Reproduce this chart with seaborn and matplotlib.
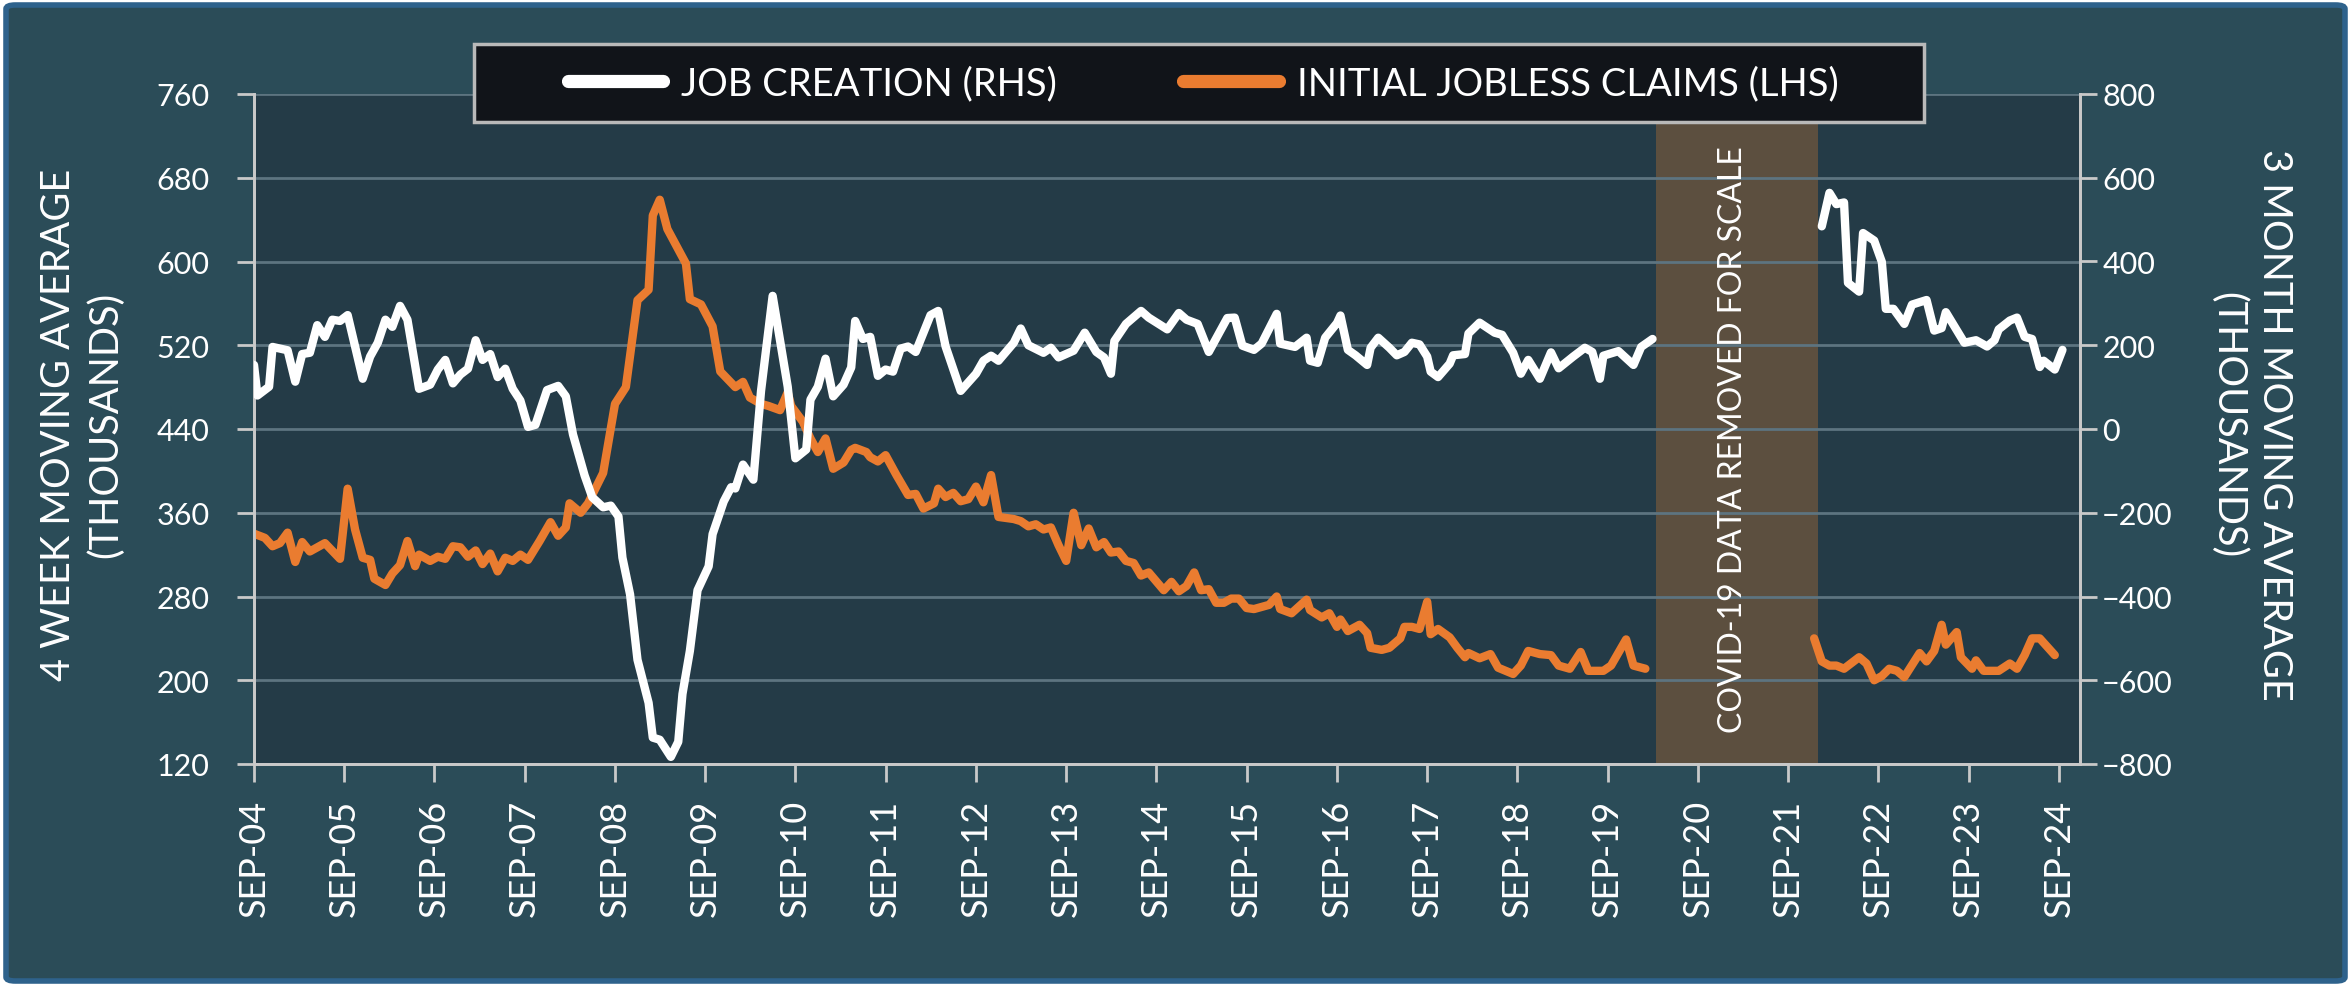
import numpy as np
import pandas as pd
import matplotlib
matplotlib.use("Agg")
import matplotlib.pyplot as plt
from matplotlib.lines import Line2D
from matplotlib.patches import Rectangle, FancyBboxPatch
import seaborn as sns

# job creation, 3 month moving average (thousands, RHS)
jobs_dates_pre = [
    "2004-09-01", "2004-09-15", "2004-11-01", "2004-11-15", "2005-01-15", "2005-02-15",
    "2005-03-15", "2005-04-15", "2005-05-15", "2005-06-15", "2005-07-15", "2005-08-15",
    "2005-09-15", "2005-11-15", "2005-12-15", "2006-01-15", "2006-02-15", "2006-03-15",
    "2006-04-15", "2006-05-15", "2006-07-01", "2006-08-15", "2006-09-15", "2006-10-15",
    "2006-11-15", "2006-12-15", "2007-01-15", "2007-02-15", "2007-03-15", "2007-04-15",
    "2007-05-15", "2007-06-15", "2007-07-15", "2007-08-15", "2007-09-15", "2007-10-15",
    "2007-12-01", "2008-01-15", "2008-02-15", "2008-03-15", "2008-05-01", "2008-06-01",
    "2008-07-15", "2008-08-15", "2008-09-15", "2008-10-01", "2008-11-01", "2008-12-01",
    "2009-01-15", "2009-02-01", "2009-03-01", "2009-04-15", "2009-05-15", "2009-06-01",
    "2009-07-01", "2009-08-01", "2009-09-15", "2009-10-01", "2009-11-15", "2009-12-15",
    "2010-01-01", "2010-02-01", "2010-03-15", "2010-04-15", "2010-06-01", "2010-08-01",
    "2010-09-01", "2010-10-15", "2010-11-01", "2010-12-01", "2011-01-01", "2011-02-01",
    "2011-03-15", "2011-04-15", "2011-05-01", "2011-06-01", "2011-07-01", "2011-08-01",
    "2011-09-01", "2011-10-01", "2011-11-01", "2011-12-01", "2012-01-01", "2012-03-01",
    "2012-04-01", "2012-05-01", "2012-07-01", "2012-09-01", "2012-10-01", "2012-11-01",
    "2012-12-01", "2013-02-01", "2013-03-01", "2013-04-01", "2013-06-01", "2013-07-01",
    "2013-08-01", "2013-09-01", "2013-10-01", "2013-11-15", "2014-01-01", "2014-02-01",
    "2014-03-01", "2014-03-15", "2014-05-01", "2014-07-01", "2014-08-01", "2014-10-15",
    "2014-12-01", "2015-01-01", "2015-02-15", "2015-04-01", "2015-06-15", "2015-07-15",
    "2015-08-15", "2015-10-01", "2015-11-01", "2016-01-01", "2016-01-15", "2016-03-15",
    "2016-05-01", "2016-05-15", "2016-06-15", "2016-07-15", "2016-09-01", "2016-09-15",
    "2016-10-15", "2016-11-15", "2017-01-01", "2017-01-15", "2017-02-15", "2017-04-01",
    "2017-05-01", "2017-06-01", "2017-07-01", "2017-08-01", "2017-09-01", "2017-09-15",
    "2017-10-15", "2017-12-01", "2017-12-15", "2018-02-01", "2018-02-15", "2018-04-01",
    "2018-06-01", "2018-07-01", "2018-08-15", "2018-09-15", "2018-10-15", "2018-12-01",
    "2019-01-15", "2019-02-15", "2019-04-15", "2019-06-01", "2019-07-01", "2019-08-01",
    "2019-08-15", "2019-10-15", "2019-12-15", "2020-01-15", "2020-03-01",
]
jobs_pre = [
    153, 80, 101, 196, 188, 113,
    179, 182, 248, 220, 261, 258,
    272, 120, 173, 206, 261, 244,
    294, 261, 96, 106, 142, 165,
    109, 130, 144, 212, 165, 179,
    124, 144, 96, 68, 5, 10,
    93, 103, 78, -13, -111, -163,
    -187, -183, -209, -307, -395, -551,
    -654, -737, -742, -783, -747, -633,
    -530, -385, -328, -251, -173, -139,
    -142, -85, -121, 91, 318, 101,
    -70, -49, 70, 101, 168, 78,
    106, 147, 258, 215, 220, 127,
    142, 137, 192, 197, 184, 272,
    282, 197, 91, 132, 163, 175,
    163, 206, 240, 200, 182, 194,
    171, 179, 187, 230, 184, 171,
    132, 210, 251, 282, 266, 238,
    277, 261, 251, 184, 265, 266,
    199, 189, 204, 275, 204, 196,
    218, 163, 158, 218, 253, 271,
    189, 176, 153, 194, 218, 194,
    176, 184, 206, 202, 173, 137,
    124, 156, 176, 179, 228, 254,
    230, 225, 182, 132, 165, 120,
    183, 145, 173, 194, 184, 120,
    175, 186, 153, 196, 215,
]
jobs_dates_post = [
    "2022-01-15", "2022-02-15", "2022-03-15", "2022-04-15", "2022-05-01", "2022-06-15",
    "2022-07-01", "2022-08-15", "2022-09-15", "2022-10-01", "2022-11-01", "2022-12-15",
    "2023-01-15", "2023-03-15", "2023-04-15", "2023-05-15", "2023-06-01", "2023-08-15",
    "2023-10-01", "2023-11-15", "2023-12-15", "2024-01-01", "2024-02-15", "2024-03-15",
    "2024-04-15", "2024-05-15", "2024-06-15", "2024-07-01", "2024-08-15", "2024-09-15",
]
jobs_post = [
    484, 564, 537, 541, 349, 328,
    468, 450, 399, 287, 287, 251,
    297, 308, 235, 241, 279, 206,
    212, 197, 212, 238, 259, 266,
    220, 215, 148, 163, 142, 189,
]

# initial jobless claims, 4 week moving average (thousands, LHS)
claims_dates_pre = [
    "2004-09-01", "2004-10-15", "2004-11-15", "2004-12-15", "2005-01-15", "2005-02-15",
    "2005-03-15", "2005-04-15", "2005-06-15", "2005-08-15", "2005-09-15", "2005-10-15",
    "2005-11-15", "2005-12-15", "2006-01-01", "2006-02-15", "2006-03-15", "2006-04-15",
    "2006-05-15", "2006-06-15", "2006-07-01", "2006-08-15", "2006-09-15", "2006-10-15",
    "2006-11-15", "2006-12-15", "2007-01-15", "2007-02-15", "2007-03-15", "2007-04-15",
    "2007-05-15", "2007-06-15", "2007-07-15", "2007-08-15", "2007-09-15", "2007-11-01",
    "2007-12-15", "2008-01-15", "2008-02-15", "2008-03-01", "2008-04-15", "2008-05-15",
    "2008-07-15", "2008-09-01", "2008-10-15", "2008-12-01", "2009-01-15", "2009-02-01",
    "2009-03-01", "2009-04-01", "2009-06-15", "2009-07-01", "2009-08-15", "2009-10-01",
    "2009-11-01", "2010-01-01", "2010-02-01", "2010-03-01", "2010-04-15", "2010-05-15",
    "2010-07-01", "2010-08-01", "2010-08-15", "2010-10-01", "2010-11-01", "2010-12-01",
    "2011-01-01", "2011-02-01", "2011-03-15", "2011-04-15", "2011-05-01", "2011-06-15",
    "2011-07-01", "2011-08-01", "2011-09-01", "2011-10-15", "2011-12-01", "2012-01-01",
    "2012-02-01", "2012-03-15", "2012-04-01", "2012-05-01", "2012-06-01", "2012-07-01",
    "2012-08-01", "2012-09-01", "2012-10-01", "2012-11-01", "2012-12-01", "2013-02-01",
    "2013-03-01", "2013-04-01", "2013-05-01", "2013-06-01", "2013-07-01", "2013-08-01",
    "2013-09-01", "2013-10-01", "2013-11-01", "2013-12-01", "2014-01-01", "2014-02-01",
    "2014-03-01", "2014-04-01", "2014-05-01", "2014-06-01", "2014-07-01", "2014-08-01",
    "2014-10-01", "2014-11-01", "2014-12-01", "2015-01-01", "2015-02-01", "2015-03-01",
    "2015-04-01", "2015-05-01", "2015-06-01", "2015-07-01", "2015-08-01", "2015-09-01",
    "2015-10-01", "2015-12-01", "2016-01-01", "2016-01-15", "2016-03-01", "2016-05-01",
    "2016-05-15", "2016-07-01", "2016-08-01", "2016-09-01", "2016-09-15", "2016-10-15",
    "2016-12-01", "2017-01-01", "2017-01-15", "2017-03-01", "2017-04-01", "2017-05-15",
    "2017-06-01", "2017-07-01", "2017-08-01", "2017-09-01", "2017-09-15", "2017-10-15",
    "2017-12-01", "2018-01-01", "2018-02-01", "2018-02-15", "2018-04-01", "2018-05-15",
    "2018-06-15", "2018-08-15", "2018-09-15", "2018-10-15", "2018-12-01", "2019-01-15",
    "2019-02-15", "2019-04-01", "2019-05-15", "2019-06-15", "2019-08-15", "2019-09-15",
    "2019-11-15", "2019-12-15", "2020-02-01",
]
claims_pre = [
    340, 336, 328, 331, 341, 313,
    332, 323, 331, 316, 383, 344,
    317, 315, 297, 291, 302, 310,
    333, 309, 320, 314, 318, 316,
    328, 327, 318, 324, 311, 321,
    304, 317, 314, 320, 315, 333,
    351, 338, 346, 369, 360, 369,
    398, 464, 480, 563, 573, 644,
    659, 631, 598, 564, 559, 538,
    495, 480, 485, 470, 464, 462,
    458, 475, 462, 447, 431, 418,
    431, 402, 408, 420, 422, 418,
    413, 409, 415, 396, 377, 378,
    364, 369, 383, 375, 379, 371,
    373, 385, 370, 396, 356, 354,
    352, 347, 349, 344, 346, 329,
    314, 360, 329, 345, 327, 332,
    322, 323, 314, 312, 300, 303,
    286, 294, 285, 290, 303, 286,
    287, 274, 274, 278, 278, 269,
    268, 272, 280, 268, 264, 277,
    267, 260, 264, 251, 258, 247,
    253, 245, 231, 229, 231, 240,
    251, 251, 249, 275, 244, 249,
    241, 231, 222, 226, 221, 225,
    212, 206, 214, 228, 225, 224,
    214, 211, 227, 209, 209, 214,
    239, 214, 211,
]
claims_dates_post = [
    "2021-12-15", "2022-01-15", "2022-02-15", "2022-03-15", "2022-04-15", "2022-06-15",
    "2022-07-15", "2022-08-15", "2022-09-15", "2022-10-15", "2022-11-15", "2022-12-15",
    "2023-02-15", "2023-03-15", "2023-04-15", "2023-05-15", "2023-06-01", "2023-07-15",
    "2023-08-01", "2023-09-15", "2023-10-01", "2023-11-01", "2024-01-01", "2024-02-15",
    "2024-03-15", "2024-04-15", "2024-05-15", "2024-06-15", "2024-08-15",
]
claims_post = [
    240, 218, 214, 214, 211, 222,
    216, 200, 204, 211, 209, 203,
    226, 218, 228, 253, 234, 246,
    222, 211, 219, 209, 209, 216,
    211, 224, 240, 240, 224,
]

tick_years = list(range(2004, 2025))
tick_labels = ["SEP-%02d" % (y % 100) for y in tick_years]

covid_start = "2020-03-15"
covid_end = "2021-12-31"

BG = "#2b4c58"
PANEL = "#243b47"
ORANGE = "#ea7c30"
SPINE = "#c9c9c9"
GRID = "#5d7480"

jobs = pd.concat([
    pd.DataFrame({"date": pd.to_datetime(jobs_dates_pre), "value": jobs_pre, "segment": "pre"}),
    pd.DataFrame({"date": pd.to_datetime(jobs_dates_post), "value": jobs_post, "segment": "post"}),
])
claims = pd.concat([
    pd.DataFrame({"date": pd.to_datetime(claims_dates_pre), "value": claims_pre, "segment": "pre"}),
    pd.DataFrame({"date": pd.to_datetime(claims_dates_post), "value": claims_post, "segment": "post"}),
])

sns.set_style("ticks")
plt.rcParams["font.family"] = ["Lato", "DejaVu Sans"]

W, H = 2351, 987
fig = plt.figure(figsize=(W / 100, H / 100), dpi=100, facecolor="white")

# rounded card with blue edge
card = FancyBboxPatch((6 / W, 5 / H), (W - 12) / W, (H - 11) / H,
                      boxstyle="round,pad=0,rounding_size=0.004",
                      transform=fig.transFigure, facecolor=BG,
                      edgecolor="#2e628c", lw=4, zorder=-5)
fig.patches.append(card)

ax = fig.add_axes([254 / W, 1 - 765 / H, (2080 - 254) / W, (765 - 95) / H])
ax.set_facecolor(PANEL)
ax2 = ax.twinx()

ax.axvspan(pd.Timestamp(covid_start), pd.Timestamp(covid_end),
           color="#5c4f3f", lw=0, zorder=0.3)
sns.lineplot(data=claims, x="date", y="value", units="segment", estimator=None,
             color=ORANGE, lw=6, ax=ax, legend=False, zorder=3)
sns.lineplot(data=jobs, x="date", y="value", units="segment", estimator=None,
             color="white", lw=6, ax=ax2, legend=False, zorder=3)

ax.set_xlim(pd.Timestamp("2004-09-01"), pd.Timestamp("2024-11-25"))
ax.set_ylim(120, 760)
ax2.set_ylim(-800, 800)
ax.set_yticks(np.arange(120, 761, 80))
ax2.set_yticks(np.arange(-800, 801, 200))
ax.set_xticks(pd.to_datetime(["%d-09-01" % y for y in tick_years]))
ax.set_xticklabels(tick_labels, rotation=90)
ax.set_xlabel("")
ax.set_ylabel("")
ax2.set_ylabel("")

ax.set_axisbelow(True)
ax.yaxis.grid(True, color=GRID, lw=2)
for a in (ax, ax2):
    a.spines["top"].set_visible(False)
    for s in ("left", "right", "bottom"):
        a.spines[s].set_color(SPINE)
        a.spines[s].set_linewidth(2)
ax.tick_params(axis="y", length=12, width=2, color=SPINE, pad=20,
               labelsize=22, labelcolor="white")
ax2.tick_params(axis="y", length=12, width=2, color=SPINE, pad=4,
                labelsize=22, labelcolor="white")
ax.tick_params(axis="x", length=13, width=2, color=SPINE, pad=12,
               labelsize=26, labelcolor="white")

ax.text(pd.Timestamp("2021-01-22"), 0.485, "COVID-19 DATA REMOVED FOR SCALE",
        transform=ax.get_xaxis_transform(), rotation=90, ha="center", va="center",
        color="white", fontsize=23, zorder=4)

fig.text(82 / W, 1 - 425 / H, "4 WEEK MOVING AVERAGE\n(THOUSANDS)", rotation=90,
         ha="center", va="center", multialignment="center", color="white",
         fontsize=28.5, linespacing=1.3)
fig.text(2251 / W, 1 - 425 / H, "3 MONTH MOVING AVERAGE\n(THOUSANDS)", rotation=270,
         ha="center", va="center", multialignment="center", color="white",
         fontsize=28.5, linespacing=1.3)

# legend box
fig.patches.append(Rectangle((474 / W, 1 - 123 / H), (1924 - 474) / W, 78 / H,
                             transform=fig.transFigure, facecolor="#111419",
                             edgecolor="#b9b9b9", lw=2.5, zorder=8))
handles = [Line2D([0], [0], color="white", lw=9.5),
           Line2D([0], [0], color=ORANGE, lw=9.5)]
leg = fig.legend(handles, ["JOB CREATION (RHS)", "INITIAL JOBLESS CLAIMS (LHS)"],
                 loc="center", bbox_to_anchor=(1203 / W, 1 - 84 / H), ncol=2,
                 frameon=False, fontsize=27.5, handlelength=2.5, handletextpad=0.47,
                 columnspacing=3.3, labelcolor="white")
leg.set_zorder(9)

fig.savefig("out.png", dpi=100, facecolor=fig.get_facecolor())
